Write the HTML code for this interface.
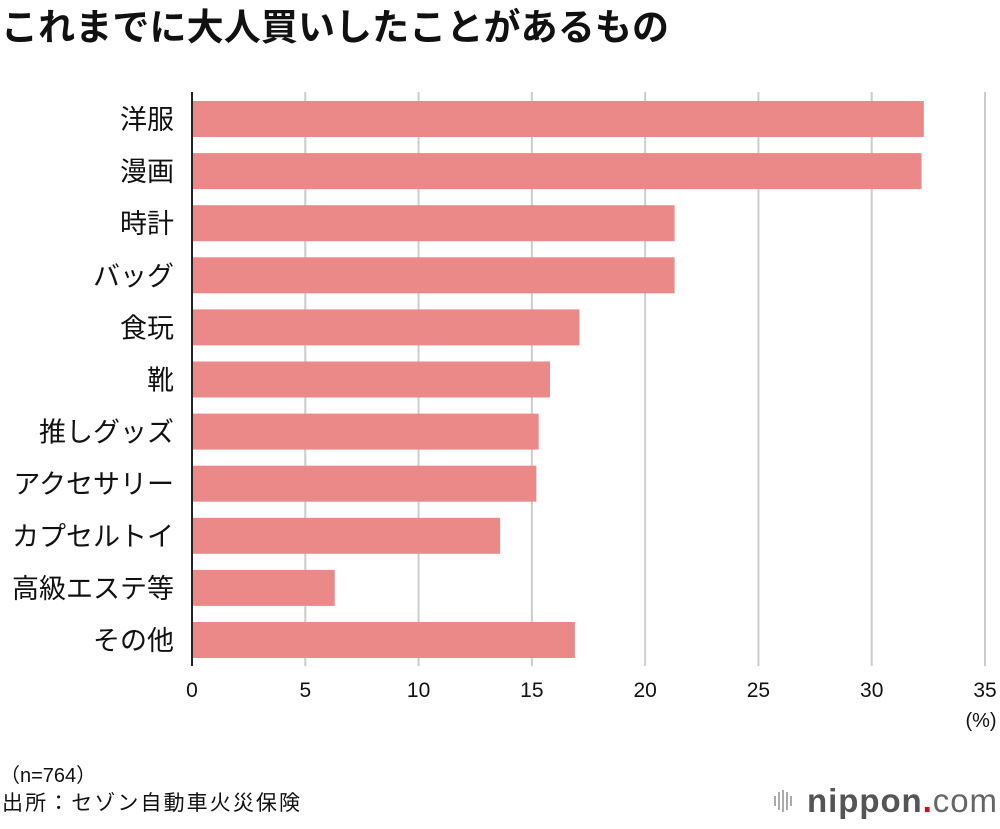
<!DOCTYPE html>
<html><head><meta charset="utf-8">
<style>
body{margin:0;background:#fff;width:1000px;height:824px;overflow:hidden;font-family:"Liberation Sans","Noto Sans CJK JP",sans-serif;}
svg text{font-family:"Liberation Sans","Noto Sans CJK JP",sans-serif;}
</style></head>
<body>
<svg id="chart" width="1000" height="824">
<text x="1" y="40" font-size="37" font-weight="bold" fill="#111" textLength="668">これまでに大人買いしたことがあるもの</text>
<g id="grid"></g><g id="bars"></g><g id="labels"></g><g id="ticks"></g>
<text x="981" y="727" font-size="20" text-anchor="middle" fill="#111">(%)</text>
<text x="0" y="782" font-size="20" fill="#111">（n=764）</text>
<text x="2" y="810" font-size="21" fill="#111" textLength="298">出所：セゾン自動車火災保険</text>
<g>
<g fill="#aaa"><rect x="774" y="796" width="2" height="10"/><rect x="778" y="792" width="2" height="18"/><rect x="782" y="790" width="2" height="22"/><rect x="786" y="792" width="2" height="18"/><rect x="790" y="796" width="2" height="10"/></g>
<text x="807" y="812" font-size="33" fill="#555" font-weight="bold" textLength="190">nippon<tspan fill="#e60012">.</tspan><tspan fill="#666" font-weight="normal">com</tspan></text>
</g>
</svg>
<script>
const categories=["洋服","漫画","時計","バッグ","食玩","靴","推しグッズ","アクセサリー","カプセルトイ","高級エステ等","その他"];
const values=[32.3,32.2,21.3,21.3,17.1,15.8,15.3,15.2,13.6,6.3,16.9];
const tickValues=[0,5,10,15,20,25,30,35];
const NS="http://www.w3.org/2000/svg";
const x=v=>192+v*(793/35);
const y=i=>101+i*52.1;
function mk(t,a,p){const e=document.createElementNS(NS,t);for(const k in a)e.setAttribute(k,a[k]);p.appendChild(e);return e;}
const G=document.getElementById('grid'),B=document.getElementById('bars'),L=document.getElementById('labels'),T=document.getElementById('ticks');
tickValues.forEach(v=>{
 const l=mk('line',{x1:x(v),x2:x(v),y1:92,y2:666,stroke:v===0?'#222':'#ccc','stroke-width':2},G);
 
 
 const t=mk('text',{x:x(v),y:697,'font-size':21,'text-anchor':'middle',fill:'#111'},T);
 t.textContent=v;
 
 
});
categories.forEach((c,i)=>{
 const r=mk('rect',{x:x(0)+1,y:y(i),width:x(values[i])-x(0)-1,height:36,fill:'#eb8989'},B);
 
 
 const t=mk('text',{x:174,y:y(i)+28,'font-size':27,'text-anchor':'end',fill:'#111'},L);
 t.textContent=c;
 
 
});
</script>
</body></html>
